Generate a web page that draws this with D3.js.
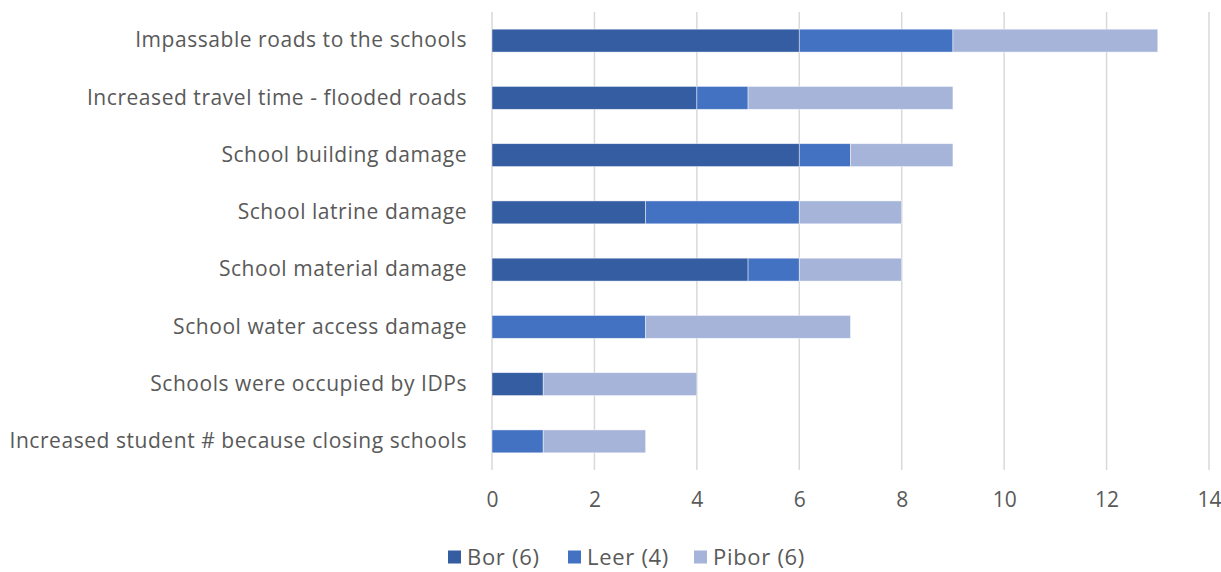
<!DOCTYPE html>
<html>
<head>
<meta charset="utf-8">
<script src="https://cdn.jsdelivr.net/npm/d3@7"></script>
<style>
  body { margin: 0; background: #fff; }
  svg { display: block; font-family: "Open Sans", "Lato", sans-serif; }
</style>
</head>
<body>
<svg id="chart" width="1221" height="572"></svg>
<script>
// Reported impacts by county (number of schools)
const categories = [
  "Impassable roads to the schools",
  "Increased travel time - flooded roads",
  "School building damage",
  "School latrine damage",
  "School material damage",
  "School water access damage",
  "Schools were occupied by IDPs",
  "Increased student # because closing schools"
];
const seriesNames = ["Bor (6)", "Leer (4)", "Pibor (6)"];
const bor   = [6, 4, 6, 3, 5, 0, 1, 0];
const leer  = [3, 1, 1, 3, 1, 3, 0, 1];
const pibor = [4, 4, 2, 2, 2, 4, 3, 2];
const xTicks = [0, 2, 4, 6, 8, 10, 12, 14];
const colors = ["#345DA2", "#4472C3", "#A6B4DA"];

const rows = categories.map((c, i) => ({ cat: c, s0: bor[i], s1: leer[i], s2: pibor[i] }));
const stack = d3.stack().keys(["s0", "s1", "s2"])(rows);

const svg = d3.select("#chart");
const x = d3.scaleLinear().domain([0, 14]).range([492, 1209]);
const y = d3.scaleBand().domain(categories).range([12, 470]).paddingInner(0.6).paddingOuter(0.3);

const labelFont = "'Open Sans', Lato, sans-serif";

// vertical gridlines
svg.append("g").selectAll("line").data(xTicks).join("line")
  .attr("x1", d => x(d)).attr("x2", d => x(d))
  .attr("y1", 12).attr("y2", 470)
  .attr("stroke", "#d9d9d9").attr("stroke-width", 1.5);

// stacked bars
svg.append("g").selectAll("g").data(stack).join("g")
  .attr("fill", (d, i) => colors[i])
  .selectAll("rect").data(d => d.filter(s => s[1] > s[0])).join("rect")
  .attr("x", d => x(d[0]))
  .attr("width", d => x(d[1]) - x(d[0]))
  .attr("y", d => y(d.data.cat))
  .attr("height", y.bandwidth())
  .attr("stroke", "#ffffff").attr("stroke-opacity", 0.6).attr("stroke-width", 0.75);

// category labels
const yAxis = svg.append("g").attr("transform", "translate(467,0)")
  .call(d3.axisLeft(y).tickSize(0).tickPadding(0));
yAxis.select(".domain").remove();
yAxis.selectAll("text").attr("font-size", 21).attr("fill", "#595959")
  .attr("letter-spacing", 0.55).attr("font-family", labelFont);

// value axis labels
const xAxis = svg.append("g").attr("transform", "translate(0,492)")
  .call(d3.axisBottom(x).tickValues(xTicks).tickSize(0).tickPadding(0));
xAxis.select(".domain").remove();
xAxis.selectAll("text").attr("font-size", 21).attr("fill", "#595959")
  .attr("dy", "0.71em").attr("font-family", labelFont);

// legend
const legendX = [448, 568, 694];
const legend = svg.append("g").selectAll("g").data(seriesNames).join("g")
  .attr("transform", (d, i) => `translate(${legendX[i]},557)`);
legend.append("rect").attr("x", 0).attr("y", -6.5).attr("width", 13).attr("height", 13)
  .attr("fill", (d, i) => colors[i]);
legend.append("text").attr("x", 19).attr("dy", "0.35em")
  .attr("font-size", 22).attr("letter-spacing", 0.7).attr("fill", "#595959")
  .attr("font-family", labelFont).text(d => d);
</script>
</body>
</html>
